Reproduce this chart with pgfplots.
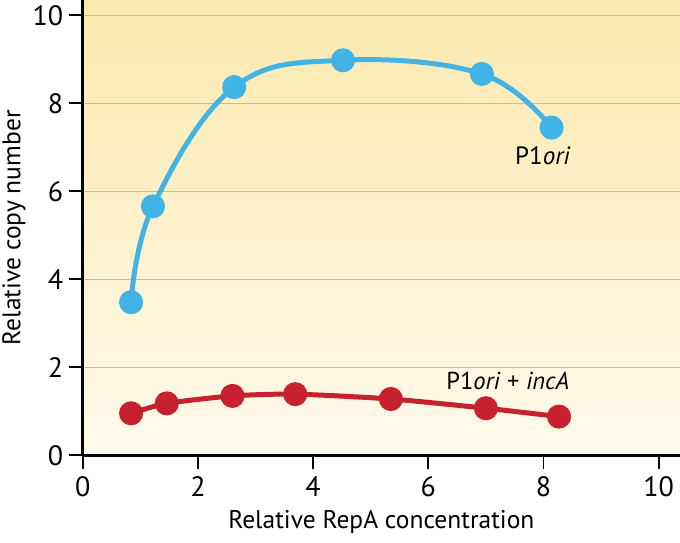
\documentclass[border=0pt]{standalone}
\usepackage{pgfplots}
\pgfplotsset{compat=1.18}
\usepackage{fontspec}
\setmainfont{PT Sans}
\definecolor{blueline}{HTML}{41B4E6}
\definecolor{redline}{HTML}{C7202E}
\definecolor{bgtop}{HTML}{FCE9AE}
\definecolor{bgbot}{HTML}{FFFAEB}
\definecolor{gridc}{HTML}{DDB489}
\begin{document}
\begin{tikzpicture}
\begin{axis}[
  scale only axis,
  width=597.3pt, height=455.3pt,
  xmin=0, xmax=10.37, ymin=0, ymax=10.35,
  axis x line*=bottom, axis y line*=left,
  axis line style={line width=2.4pt, black},
  xtick={0,2,4,6,8,10}, ytick={0,2,4,6,8,10},
  tick align=outside,
  major tick length=14pt,
  tick style={line width=1.8pt, black},
  ymajorgrids,
  major grid style={line width=1pt, gridc},
  axis background/.style={top color=bgtop, bottom color=bgbot},
  /pgf/number format/assume math mode=true,
  ticklabel style={font=\fontsize{28}{32}\selectfont},
  xticklabel style={yshift=-4pt},
  yticklabel style={xshift=-2pt},
  label style={font=\fontsize{25.5}{30}\selectfont},
  xlabel={Relative RepA concentration},
  ylabel={Relative copy number},
  xlabel style={at={(rel axis cs:0.5,0)}, anchor=center, yshift=-67pt},
  ylabel style={at={(rel axis cs:0,0.5)}, anchor=center, yshift=68.7pt},
  clip=false,
]
\addplot[blueline, line width=5pt, smooth, tension=0.65, mark=*, mark size=9.5pt,
  mark options={fill=blueline, draw=none}] coordinates {
  (0.84,3.48) (1.22,5.66) (2.63,8.37) (4.52,8.98) (6.93,8.67) (8.14,7.45)
};
\addplot[redline, line width=5pt, smooth, tension=0.4, mark=*, mark size=9.5pt,
  mark options={fill=redline, draw=none}] coordinates {
  (0.84,0.955) (1.46,1.18) (2.60,1.35) (3.69,1.39) (5.35,1.28) (7.00,1.07) (8.27,0.88)
};
\node[font=\fontsize{25}{28}\selectfont] at (axis cs:7.99,6.82) {P1\textit{ori}};
\node[font=\fontsize{24.5}{28}\selectfont] at (axis cs:7.38,1.69) {P1\textit{ori} + \textit{incA}};
\end{axis}
\pgfresetboundingbox
\path[use as bounding box] (-82.7pt,-86.7pt) rectangle (597.3pt,455.3pt);
\end{tikzpicture}
\end{document}
